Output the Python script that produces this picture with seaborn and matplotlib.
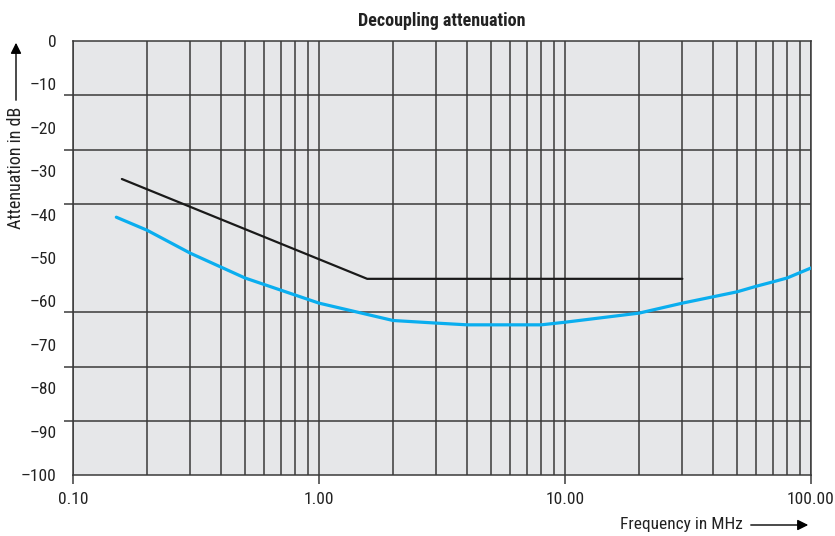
import matplotlib
matplotlib.use("Agg")
import matplotlib.pyplot as plt
from matplotlib.ticker import FixedLocator, NullFormatter
import seaborn as sns

# Grenzwertkurve (schwarz) und Messkurve (blau)
freq_grenze = [0.158, 1.57, 30]
daempf_grenze = [-31.8, -54.8, -54.8]

freq_mess = [0.15, 0.2, 0.3, 0.5, 1, 2, 3, 4, 8, 10, 20, 30, 50, 60, 70, 80, 100]
daempf_mess = [-40.6, -43.6, -48.9, -54.6, -60.4, -64.4, -65.0, -65.4, -65.4,
               -64.8, -62.7, -60.4, -57.8, -56.5, -55.5, -54.6, -52.3]

y_ticks = [0, -10, -20, -30, -40, -50, -60, -70, -80, -90, -100]
y_labels = ["0"] + ["\u2013%d" % (-v) for v in y_ticks[1:]]
x_ticks = [0.1, 1, 10, 100]
x_labels = ["0.10", "1.00", "10.00", "100.00"]
y_gitter = [0, -12.5, -25, -37.5, -50, -62.5, -75, -87.5, -100]
x_gitter = [m * d for d in (0.1, 1, 10) for m in range(2, 10)]

sns.set_theme(style="white")
plt.rcParams['font.family'] = ['Roboto Condensed', 'DejaVu Sans']

gitter = "#3a3a3a"
text_farbe = "#222222"
fig, ax = plt.subplots(figsize=(8.35, 5.36), dpi=100)
fig.subplots_adjust(left=73/835, right=811/835, top=1-41/536, bottom=1-475/536)
ax.set_facecolor("#e6e7e9")

sns.lineplot(x=freq_mess, y=daempf_mess, color="#0aaeef", linewidth=2.3, ax=ax, zorder=3)
sns.lineplot(x=freq_grenze, y=daempf_grenze, color="#1a1a1a", linewidth=1.6, ax=ax, zorder=3)

ax.set_xscale("log")
ax.set_xlim(0.1, 100)
ax.set_ylim(-100, 0)

ax.xaxis.set_major_locator(FixedLocator(x_ticks))
ax.set_xticklabels(x_labels)
ax.xaxis.set_minor_locator(FixedLocator(x_gitter))
ax.xaxis.set_minor_formatter(NullFormatter())
ax.set_yticks(y_ticks)
ax.set_yticklabels(y_labels)
ax.yaxis.set_minor_locator(FixedLocator(y_gitter))

ax.tick_params(axis="x", which="major", length=6.5, width=1.1, color=gitter,
               bottom=True, labelsize=12.5, labelcolor=text_farbe, pad=6)
ax.tick_params(axis="x", which="minor", length=0)
ax.tick_params(axis="y", which="major", length=0, labelsize=12.5,
               labelcolor=text_farbe, pad=12)
ax.tick_params(axis="y", which="minor", length=6.5, width=1.1, color=gitter, left=True)

ax.grid(True, axis="x", which="both", color=gitter, linewidth=1.1)
ax.grid(True, axis="y", which="minor", color=gitter, linewidth=1.1)
ax.grid(False, axis="y", which="major")
ax.set_axisbelow(True)
for s in ax.spines.values():
    s.set_color(gitter)
    s.set_linewidth(1.1)

ax.set_title("Decoupling attenuation", fontsize=13, fontweight="bold",
             color=text_farbe, pad=11)
ax.set_xlabel("")
ax.set_ylabel("")

# Achsbeschriftungen mit Pfeilen
fig.text(16/835, 1-168/536, "Attenuation in dB", rotation=90, ha="center",
         va="center", fontsize=13, color=text_farbe)
ax.annotate("", xy=(16/835, 1-40/536), xytext=(16/835, 1-103/536),
            xycoords="figure fraction", textcoords="figure fraction",
            arrowprops=dict(arrowstyle="-|>", color="black", lw=1, mutation_scale=16))
fig.text(743/835, 1-525/536, "Frequency in MHz", ha="right", va="center",
         fontsize=12.5, color=text_farbe)
ax.annotate("", xy=(811/835, 1-525/536), xytext=(748/835, 1-525/536),
            xycoords="figure fraction", textcoords="figure fraction",
            arrowprops=dict(arrowstyle="-|>", color="black", lw=1, mutation_scale=16))

fig.savefig("out.png", dpi=100)
